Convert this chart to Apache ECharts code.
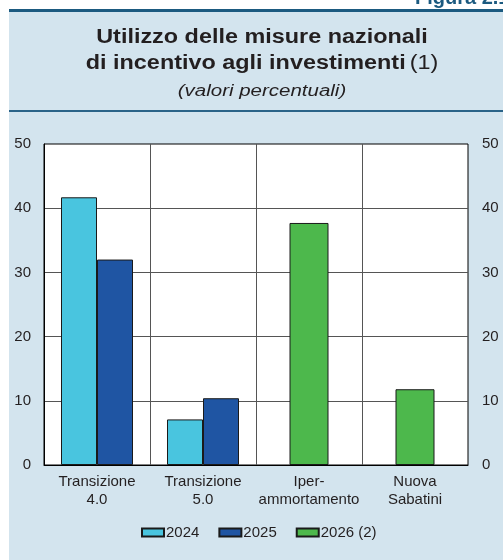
<!DOCTYPE html>
<html>
<head>
<meta charset="utf-8">
<script src="https://cdn.jsdelivr.net/npm/echarts@6/dist/echarts.min.js"></script>
<style>
html,body{margin:0;padding:0;background:#fff;}
#chart{width:503px;height:560px;}
</style>
</head>
<body>
<div id="chart"></div>
<script>
const categories = ['Transizione\n4.0', 'Transizione\n5.0', 'Iper-\nammortamento', 'Nuova\nSabatini'];
const seriesNames = ['2024', '2025', '2026 (2)'];
const values2024 = [41.7, 7.1, null, null];
const values2025 = [32.0, 10.4, null, null];
const values2026 = [null, null, 37.7, 11.8];
const yMin = 0, yMax = 50, yStep = 10;

const FONT = '"Liberation Sans", Arial, sans-serif';
const chart = echarts.init(document.getElementById('chart'), null, {renderer: 'canvas'});

const borderCol = '#1a1a1a';
const option = {
  backgroundColor: '#ffffff',
  animation: false,
  textStyle: {fontFamily: FONT},
  graphic: [
    {type: 'rect', z: -10, shape: {x: 9, y: 12, width: 494, height: 548}, style: {fill: '#d3e4ee'}},
    {type: 'rect', z: -9, shape: {x: 9, y: 9, width: 494, height: 3}, style: {fill: '#1b5a80'}},
    {type: 'rect', z: -9, shape: {x: 9, y: 110, width: 494, height: 2}, style: {fill: '#2a6388'}},
    {type: 'text', z: -8, x: 415, y: -2, style: {text: 'Figura 2.1', font: 'bold 20px ' + FONT, fill: '#1b5a80', textAlign: 'left', textVerticalAlign: 'middle'}},
    {type: 'text', z: 5, x: 262, y: 38, scaleX: 1.2,
      style: {text: 'Utilizzo delle misure nazionali', font: 'bold 19.5px ' + FONT, fill: '#231f20', textAlign: 'center', textVerticalAlign: 'middle'}},
    {type: 'text', z: 5, x: 262, y: 64, scaleX: 1.2,
      style: {text: '{b|di incentivo agli investimenti} {n|(1)}', fill: '#231f20', textAlign: 'center', textVerticalAlign: 'middle',
        rich: {b: {font: 'bold 19.5px ' + FONT, fill: '#231f20'}, n: {font: '19.5px ' + FONT, fill: '#231f20'}}}},
    {type: 'text', z: 5, x: 262, y: 92, scaleX: 1.28,
      style: {text: '(valori percentuali)', font: 'italic 16px ' + FONT, fill: '#231f20', textAlign: 'center', textVerticalAlign: 'middle'}}
  ],
  legend: {
    data: seriesNames,
    left: 136, top: 520,
    itemWidth: 22, itemHeight: 8, itemGap: 19,
    textStyle: {fontSize: 15, color: '#231f20', fontFamily: FONT, padding: [0, 0, 0, -3]},
    icon: 'rect'
  },
  grid: {
    left: 44, right: 35, top: 144, bottom: 95,
    show: true, backgroundColor: '#ffffff', borderColor: '#000000', borderWidth: 1,
    containLabel: false
  },
  xAxis: [
    {
      type: 'category', data: categories, position: 'bottom',
      axisLine: {show: true, lineStyle: {color: '#000', width: 1}},
      axisTick: {show: false},
      axisLabel: {fontSize: 15, color: '#231f20', lineHeight: 18, margin: 8, interval: 0, fontFamily: FONT},
      splitLine: {show: true, showMinLine: false, showMaxLine: false, lineStyle: {color: '#555555', width: 1}}
    },
    {
      type: 'category', data: categories, position: 'bottom', show: false
    }
  ],
  yAxis: [
    {
      type: 'value', min: yMin, max: yMax, interval: yStep, position: 'left',
      axisLine: {show: true, lineStyle: {color: '#000'}},
      axisTick: {show: false},
      axisLabel: {fontSize: 15, color: '#231f20', margin: 13, fontFamily: FONT},
      splitLine: {show: true, showMinLine: false, showMaxLine: false, lineStyle: {color: '#555555', width: 1}}
    },
    {
      type: 'value', min: yMin, max: yMax, interval: yStep, position: 'right',
      axisLine: {show: false}, axisTick: {show: false},
      axisLabel: {fontSize: 15, color: '#231f20', margin: 14, fontFamily: FONT},
      splitLine: {show: false}
    }
  ],
  series: [
    {name: seriesNames[0], type: 'bar', xAxisIndex: 0, yAxisIndex: 0, data: values2024,
      barWidth: 36, barGap: '0%',
      itemStyle: {color: '#49c5df', borderColor: borderCol, borderWidth: 1}},
    {name: seriesNames[1], type: 'bar', xAxisIndex: 0, yAxisIndex: 0, data: values2025,
      barWidth: 36, barGap: '0%',
      itemStyle: {color: '#1f55a3', borderColor: borderCol, borderWidth: 1}},
    {name: seriesNames[2], type: 'bar', xAxisIndex: 1, yAxisIndex: 0, data: values2026,
      barWidth: 39,
      itemStyle: {color: '#4db84c', borderColor: borderCol, borderWidth: 1}}
  ]
};
chart.setOption(option);
</script>
</body>
</html>
